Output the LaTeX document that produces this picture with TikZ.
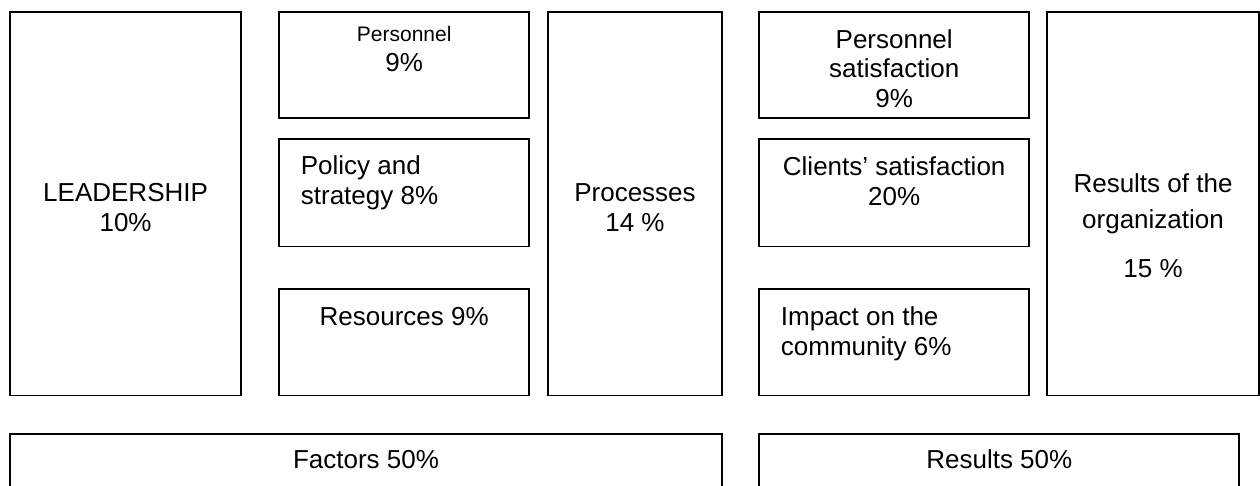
\documentclass[tikz,border=0pt]{standalone}
\usepackage{fontspec}
\setmainfont{Liberation Sans}
\usetikzlibrary{fit}
\newcommand\bigtxt{\fontsize{26}{30}\selectfont}
\newcommand\smalltxt{\fontsize{21}{25}\selectfont}
\begin{document}
\begin{tikzpicture}[x=1pt,y=-1pt,
  box/.style={draw=black, line width=1.8pt, inner sep=0pt, outer sep=0pt},
  lbl/.style={font=\bigtxt, anchor=base, inner sep=0pt},
  lbll/.style={font=\bigtxt, anchor=base west, inner sep=0pt},
  slbl/.style={font=\smalltxt, anchor=base, inner sep=0pt}]
\useasboundingbox (0,0) rectangle (1260,486);
\clip (0,0) rectangle (1260,486);

% enablers (left half)
\node[box, fit={(10.3,11.7) (241,395.5)}] (lead) {};
\node[box, fit={(279,11.7) (529.3,118)}] (pers) {};
\node[box, fit={(279,139.3) (529.3,246.5)}] (pol) {};
\node[box, fit={(279,289.3) (529.3,395.5)}] (res) {};
\node[box, fit={(548.3,11.7) (721.7,395.5)}] (proc) {};

% results (right half)
\node[box, fit={(759.3,11.7) (1029,118)}] (psat) {};
\node[box, fit={(759.3,139.3) (1029,246.5)}] (csat) {};
\node[box, fit={(759.3,289.3) (1029,395.5)}] (imp) {};
\node[box, fit={(1047.3,11.7) (1258.7,395.5)}] (org) {};

% summary bars, running off the lower edge
\node[box, fit={(10.3,434.3) (721.7,500)}] (fac) {};
\node[box, fit={(759.3,434.3) (1239.3,500)}] (rsum) {};

% labels
\node[lbl] (leadA) at (125.6,201.7) {LEADERSHIP};
\node[lbl] (leadB) at (125.6,231.7) {10\%};

\node[slbl] (persA) at (404.2,42) {Personnel};
\node[lbl] (persB) at (404.2,71.3) {9\%};

\node[lbll] (polA) at (300.7,175) {Policy and};
\node[lbll] (polB) at (300.7,205) {strategy 8\%};

\node[lbl] (resA) at (404.2,325.7) {Resources 9\%};

\node[lbl] (procA) at (635,201.7) {Processes};
\node[lbl] (procB) at (635,231.7) {14 \%};

\node[lbl] (psatA) at (894.2,48.7) {Personnel};
\node[lbl] (psatB) at (894.2,78) {satisfaction};
\node[lbl] (psatC) at (894.2,107.3) {9\%};

\node[lbl] (csatA) at (894.2,175.7) {Clients’ satisfaction};
\node[lbl] (csatB) at (894.2,205.7) {20\%};

\node[lbll] (impA) at (780.7,325.7) {Impact on the};
\node[lbll] (impB) at (780.7,355.2) {community 6\%};

\node[lbl] (orgA) at (1153,193) {Results of the};
\node[lbl] (orgB) at (1153,229) {organization};
\node[lbl] (orgC) at (1153,277.3) {15 \%};

\node[lbl] (facA) at (366,468.3) {Factors 50\%};
\node[lbl] (rsumA) at (999.3,468.3) {Results 50\%};
\end{tikzpicture}
\end{document}
